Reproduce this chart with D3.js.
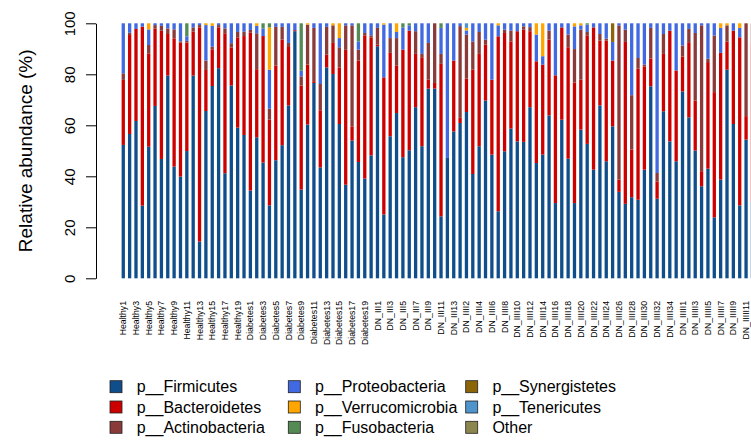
<!DOCTYPE html>
<html>
<head>
<meta charset="utf-8">
<script src="https://cdn.jsdelivr.net/npm/d3@7"></script>
<style>
    html, body { margin: 0; padding: 0; background: #fff; }
    svg { display: block; font-family: "Liberation Sans", Arial, sans-serif; }
</style>
</head>
<body>
<div id="chart"></div>
<script>
// Sample groups (names shown under the bars)
const groups = [
    { prefix: 'Healthy', count: 20 },
    { prefix: 'Diabetes', count: 20 },
    { prefix: 'DN_III', count: 13 },
    { prefix: 'DN_IIII', count: 35 },
    { prefix: 'DN_IIIII', count: 12 }
];
const samples = groups.flatMap(g => d3.range(1, g.count + 1).map(i => g.prefix + i));

const phyla = ['p__Firmicutes', 'p__Bacteroidetes', 'p__Actinobacteria', 'p__Proteobacteria',
    'p__Verrucomicrobia', 'p__Fusobacteria', 'p__Synergistetes', 'p__Tenericutes', 'Other'];
const phylumColors = ['#104E8B', '#CD0000', '#8B3A3A', '#4169E1',
    '#FFA500', '#548B54', '#8B6508', '#4F94CD', '#8B864E'];

// Relative abundance (%) per sample, one array per phylum
const firmicutes = [52.3, 56.6, 61.7, 28.5, 51.6, 67.6, 46.8, 79.5, 43.8, 39.9,
    49.9, 79.5, 14.4, 65.6, 75.4, 82.4, 41.2, 75.6, 59.1, 56.2,
    34.4, 55.3, 45.4, 28.6, 46.3, 52.2, 67.8, 96.9, 34.8, 60.3,
    76.6, 43.5, 82.7, 80.1, 60.5, 36.7, 54.0, 45.6, 39.1, 48.2,
    91.0, 25.0, 55.7, 64.8, 47.5, 50.2, 67.1, 51.8, 74.4, 74.4,
    24.3, 47.2, 57.6, 60.9, 65.2, 40.9, 51.8, 69.7, 48.5, 26.3,
    49.8, 58.7, 53.7, 53.5, 67.1, 45.2, 48.5, 63.9, 29.5, 62.2,
    46.9, 29.5, 58.3, 52.7, 42.6, 67.8, 45.9, 59.6, 33.9, 29.2,
    31.8, 30.8, 42.6, 75.3, 31.2, 65.5, 53.7, 45.9, 73.3, 63.1,
    50.1, 36.1, 43.0, 23.9, 38.7, 81.8, 60.5, 28.6, 54.4, 30.0];
const bacteroidetes = [25.5, 38.8, 36.1, 70.2, 36.6, 30.4, 50.3, 16.3, 50.3, 52.5,
    42.6, 17.2, 84.0, 16.1, 14.4, 16.0, 54.9, 14.9, 35.4, 38.8,
    61.9, 26.7, 49.6, 33.6, 37.1, 41.4, 22.9, 0.4, 40.8, 23.5,
    0.7, 22.4, 5.0, 12.2, 22.2, 52.9, 5.6, 39.8, 56.2, 46.3,
    0.6, 53.8, 32.7, 18.7, 42.2, 46.9, 20.9, 34.9, 3.5, 2.2,
    59.8, 0, 27.8, 2.0, 13.1, 40.9, 36.2, 21.9, 29.4, 68.6,
    46.4, 34.2, 43.2, 44.0, 29.8, 39.9, 35.3, 29.7, 50.1, 36.2,
    43.7, 47.3, 19.6, 42.6, 55.8, 25.4, 47.3, 25.8, 4.8, 63.5,
    18.7, 51.4, 40.5, 10.9, 6.8, 22.5, 43.4, 35.6, 13.7, 29.5,
    19.6, 5.9, 41.8, 49.1, 49.7, 11.1, 36.6, 65.9, 9.2, 62.0];
const actinobacteria = [2.6, 0.9, 0, 0, 3.3, 1.3, 1.9, 2.2, 3.5, 0.5,
    0.6, 1.7, 0.9, 3.7, 1.0, 0.9, 1.9, 1.7, 2.1, 1.7,
    1.1, 14.1, 0, 4.3, 15.2, 5.0, 1.6, 0, 3.6, 15.7,
    20.9, 10.3, 10.9, 6.9, 7.9, 9.6, 39.6, 4.3, 0.9, 0.8,
    6.6, 0, 5.8, 10.7, 0, 0, 8.9, 1.3, 14.4, 23.4,
    3.9, 0, 0, 36.0, 17.3, 11.1, 8.6, 2.0, 0, 0,
    1.3, 4.2, 0, 1.3, 1.6, 0, 0, 3.5, 0, 0,
    5.0, 13.1, 19.6, 1.3, 0, 2.6, 0.8, 0, 60.5, 4.8,
    21.3, 4.2, 0.7, 12.0, 3.3, 7.8, 0, 0, 4.3, 5.2,
    26.5, 57.2, 1.3, 22.2, 0, 6.3, 0, 0, 36.4, 8.0];
const proteobacteria = [19.6, 3.7, 2.2, 1.3, 6.1, 0.7, 1.0, 2.0, 2.4, 7.1,
    1.8, 1.6, 0.7, 13.9, 8.2, 0.7, 2.0, 7.8, 3.4, 3.3,
    2.6, 2.9, 3.0, 15.3, 1.4, 1.4, 7.7, 2.7, 2.2, 0,
    1.8, 23.8, 1.4, 0, 3.6, 0.8, 0.8, 3.2, 3.8, 4.7,
    1.8, 20.7, 5.8, 2.4, 8.7, 2.1, 3.1, 12.0, 7.7, 0,
    10.2, 52.8, 14.6, 1.1, 1.6, 7.1, 3.4, 6.4, 22.1, 4.3,
    2.5, 2.9, 3.1, 1.2, 1.5, 10.5, 3.3, 2.9, 20.4, 1.6,
    4.4, 8.9, 1.7, 2.9, 1.6, 4.2, 6.0, 7.3, 0.8, 2.5,
    28.2, 13.6, 16.2, 1.8, 58.7, 4.2, 2.9, 18.5, 8.7, 2.2,
    3.8, 0.8, 13.9, 4.8, 9.8, 0, 2.9, 3.7, 0, 0];
const verrucomicrobia = [0, 0, 0, 0, 2.4, 0, 0, 0, 0, 0,
    0, 0, 0, 0.7, 1.0, 0, 0, 0, 0, 0,
    0, 1.0, 0, 16.6, 0, 0, 0, 0, 0, 0.5,
    0, 0, 0, 0.8, 5.8, 0, 0, 0, 0, 0,
    0, 0.5, 0, 3.4, 0, 0, 0, 0, 0, 0,
    0, 0, 0, 0, 1.0, 0, 0, 0, 0, 0.8,
    0, 0, 0, 0, 0, 4.4, 12.9, 0, 0, 0,
    0, 1.2, 0.8, 0, 0, 0, 0, 0, 0, 0,
    0, 0, 0, 0, 0, 0, 0, 0, 0, 0,
    0, 0, 0, 0, 1.8, 0.8, 0, 1.8, 0, 0];
const fusobacteria = [0, 0, 0, 0, 0, 0, 0, 0, 0, 0,
    5.1, 0, 0, 0, 0, 0, 0, 0, 0, 0,
    0, 0, 2.0, 1.6, 0, 0, 0, 0, 18.6, 0,
    0, 0, 0, 0, 0, 0, 0, 7.1, 0, 0,
    0, 0, 0, 0, 1.6, 0.8, 0, 0, 0, 0,
    1.8, 0, 0, 0, 0, 0, 0, 0, 0, 0,
    0, 0, 0, 0, 0, 0, 0, 0, 0, 0,
    0, 0, 0, 0.5, 0, 0, 0, 0, 0, 0,
    0, 0, 0, 0, 0, 0, 0, 0, 0, 0,
    0, 0, 0, 0, 0, 0, 0, 0, 0, 0];
const synergistetes = [0, 0, 0, 0, 0, 0, 0, 0, 0, 0,
    0, 0, 0, 0, 0, 0, 0, 0, 0, 0,
    0, 0, 0, 0, 0, 0, 0, 0, 0, 0,
    0, 0, 0, 0, 0, 0, 0, 0, 0, 0,
    0, 0, 0, 0, 0, 0, 0, 0, 0, 0,
    0, 0, 0, 0, 0, 0, 0, 0, 0, 0,
    0, 0, 0, 0, 0, 0, 0, 0, 0, 0,
    0, 0, 0, 0, 0, 0, 0, 7.3, 0, 0,
    0, 0, 0, 0, 0, 0, 0, 0, 0, 0,
    0, 0, 0, 0, 0, 0, 0, 0, 0, 0];
const tenericutes = [0, 0, 0, 0, 0, 0, 0, 0, 0, 0,
    0, 0, 0, 0, 0, 0, 0, 0, 0, 0,
    0, 0, 0, 0, 0, 0, 0, 0, 0, 0,
    0, 0, 0, 0, 0, 0, 0, 0, 0, 0,
    0, 0, 0, 0, 0, 0, 0, 0, 0, 0,
    0, 0, 0, 0, 1.8, 0, 0, 0, 0, 0,
    0, 0, 0, 0, 0, 0, 0, 0, 0, 0,
    0, 0, 0, 0, 0, 0, 0, 0, 0, 0,
    0, 0, 0, 0, 0, 0, 0, 0, 0, 0,
    0, 0, 0, 0, 0, 0, 0, 0, 0, 0];
const other = [0, 0, 0, 0, 0, 0, 0, 0, 0, 0,
    0, 0, 0, 0, 0, 0, 0, 0, 0, 0,
    0, 0, 0, 0, 0, 0, 0, 0, 0, 0,
    0, 0, 0, 0, 0, 0, 0, 0, 0, 0,
    0, 0, 0, 0, 0, 0, 0, 0, 0, 0,
    0, 0, 0, 0, 0, 0, 0, 0, 0, 0,
    0, 0, 0, 0, 0, 0, 0, 0, 0, 0,
    0, 0, 0, 0, 0, 0, 0, 0, 0, 0,
    0, 0, 0, 0, 0, 0, 0, 0, 0, 0,
    0, 0, 0, 0, 0, 0, 0, 0, 0, 0];

const yTicks = [0, 20, 40, 60, 80, 100];

// Layout
const WIDTH = 751, HEIGHT = 441;
const PLOT = { left: 120.1, right: 755.6, top: 23.3, bottom: 278.3 };
const AXIS_X = 96;

const series = [firmicutes, bacteroidetes, actinobacteria, proteobacteria,
    verrucomicrobia, fusobacteria, synergistetes, tenericutes, other];

// rows for the stack: one object per sample
const rows = samples.map((name, i) => {
    const row = { name };
    phyla.forEach((p, k) => { row[p] = series[k][i]; });
    return row;
});

const svg = d3.select('#chart').append('svg')
    .attr('width', WIDTH)
    .attr('height', HEIGHT);

const x = d3.scaleBand()
    .domain(samples)
    .range([PLOT.left, PLOT.right])
    .paddingInner(0.48)
    .paddingOuter(0.24);

const y = d3.scaleLinear()
    .domain([0, 100])
    .range([PLOT.bottom, PLOT.top]);

const color = d3.scaleOrdinal().domain(phyla).range(phylumColors);

const stacked = d3.stack().keys(phyla)(rows);

// Bars
svg.append('g')
    .selectAll('g')
    .data(stacked)
    .enter().append('g')
    .attr('fill', d => color(d.key))
    .selectAll('rect')
    .data(d => d)
    .enter().append('rect')
    .attr('x', d => x(d.data.name))
    .attr('width', x.bandwidth())
    .attr('y', d => y(d[1]))
    .attr('height', d => Math.max(0, y(d[0]) - y(d[1])));

// Y axis, R style with rotated labels
const yAxis = svg.append('g')
    .attr('transform', `translate(${AXIS_X},0)`)
    .call(d3.axisLeft(y).tickValues(yTicks).tickSize(10).tickSizeOuter(0));

yAxis.select('.domain').attr('stroke', '#000');
yAxis.selectAll('.tick line').attr('stroke', '#000');
yAxis.selectAll('.tick text')
    .attr('x', 0)
    .attr('dy', '0.35em')
    .attr('transform', 'translate(-26,0) rotate(-90)')
    .attr('text-anchor', 'middle')
    .attr('fill', '#000')
    .style('font-size', '15px')
    .style('font-family', '"Liberation Sans", Arial, sans-serif');

svg.append('text')
    .attr('transform', `translate(25,${(PLOT.top + PLOT.bottom) / 2}) rotate(-90)`)
    .attr('dy', '0.35em')
    .attr('text-anchor', 'middle')
    .style('font-size', '19px')
    .text('Relative abundance (%)');

// Sample names, every other bar like the original
svg.append('g')
    .selectAll('text')
    .data(samples.filter((d, i) => i % 2 === 0))
    .enter().append('text')
    .attr('transform', d => `translate(${x(d) + x.bandwidth() / 2},301) rotate(-90)`)
    .attr('dy', '0.35em')
    .attr('text-anchor', 'end')
    .style('font-size', '8.7px')
    .text(d => d);

// Legend: three columns of three
const legendCols = [110, 288.3, 465.7];
const legendRows = [386.7, 407, 427.3];

const legendItems = svg.append('g')
    .selectAll('g')
    .data(phyla)
    .enter().append('g')
    .attr('transform', (d, i) => `translate(${legendCols[Math.floor(i / 3)]},${legendRows[i % 3]})`);

legendItems.append('rect')
    .attr('x', 0)
    .attr('y', -6)
    .attr('width', 12)
    .attr('height', 12)
    .attr('fill', d => color(d))
    .attr('stroke', '#222')
    .attr('stroke-width', 0.8);

legendItems.append('text')
    .attr('x', 26.7)
    .attr('dy', '0.35em')
    .style('font-size', '16px')
    .text(d => d);
</script>
</body>
</html>
